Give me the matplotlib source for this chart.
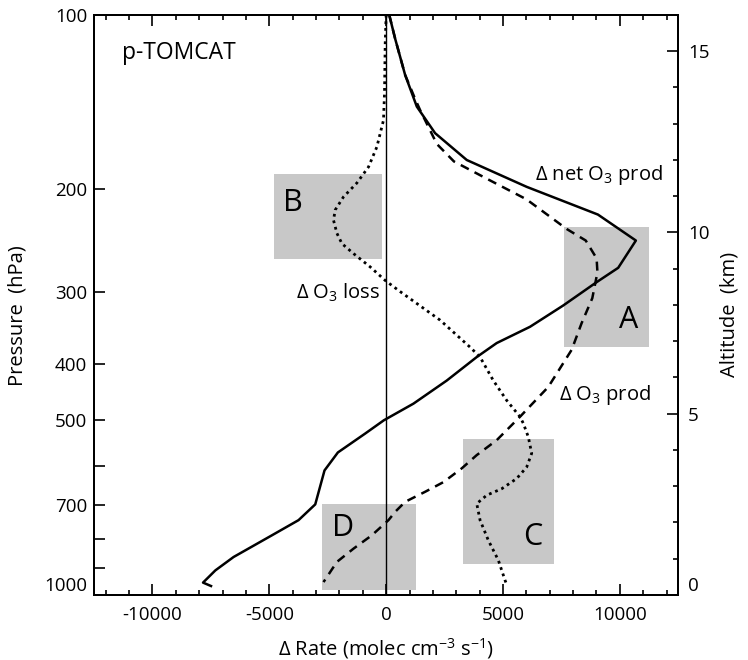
import numpy as np
import matplotlib
matplotlib.use("Agg")
import matplotlib.pyplot as plt
from matplotlib.patches import Rectangle
from matplotlib.ticker import NullFormatter, FixedLocator, FixedFormatter, MultipleLocator

plt.rcParams["font.family"] = ["Open Sans", "DejaVu Sans"]
plt.rcParams["mathtext.fontset"] = "custom"
plt.rcParams["mathtext.rm"] = "Open Sans"
plt.rcParams["mathtext.it"] = "Open Sans:italic"
plt.rcParams["axes.unicode_minus"] = False

# Delta net O3 production (molec cm-3 s-1) vs pressure (hPa)
net_p = [100, 110, 127, 144, 160, 178, 198, 221, 245, 273, 289, 317, 345, 368,
         389, 427, 468, 500, 527, 568, 610, 698, 743, 789, 860, 907, 952, 965]
net_rate = [130, 385, 812, 1312, 2094, 3450, 6014, 9060, 10685, 9929, 9005, 7578,
            6155, 4730, 3876, 2594, 1168, -100, -898, -2065, -2637, -3034, -3748,
            -4885, -6527, -7308, -7835, -7493]

# Delta O3 production
prod_p = [100, 110, 127, 140, 146, 167, 179, 193, 208, 234, 245, 263, 278, 308,
          340, 378, 438, 493, 541, 574, 605, 639, 664, 691, 719, 743, 789, 832,
          877, 950]
prod_rate = [130, 385, 812, 1250, 1453, 2167, 2900, 4445, 6000, 7723, 8540, 9005,
             9040, 8820, 8364, 7937, 6937, 5727, 4730, 3876, 3235, 2450, 1667, 812,
             385, 100, -612, -1397, -2108, -2680]

# Delta O3 loss
loss_p = [100, 112, 137, 152, 169, 183, 195, 206, 217, 226, 238, 248, 258, 272,
          287, 300, 336, 374, 389, 427, 462, 493, 506, 534, 570, 602, 630, 656,
          673, 696, 743, 805, 871, 943, 958]
loss_rate = [0, -40, -71, -114, -398, -756, -1254, -1824, -2180, -2252, -2107,
             -1893, -1397, -684, -43, 598, 2308, 3590, 4018, 4586, 5158, 5727, 5868,
             6082, 6227, 6013, 5586, 4945, 4304, 3876, 4018, 4372, 4800, 5086, 5150]

# shaded regions: (x0, x1, p_top, p_bottom, letter, letter_x, letter_p)
regions = [
    (7620, 11250, 232, 374, "A", 10386, 336),
    (-4780, -180, 188, 264, "B", -3975, 211),
    (3300, 7170, 539, 883, "C", 6283, 794),
    (-2750, 1280, 697, 979, "D", -1859, 766),
]

p_major = [100, 200, 300, 400, 500, 700, 1000]
p_minor = [600, 800, 900]
km_major = [0, 5, 10, 15]
km_minor = list(range(0, 17))

fig = plt.figure(figsize=(7.48, 6.6), dpi=100)
ax = fig.add_axes([94 / 748, 1 - 595 / 660, 584.3 / 748, 580.3 / 660])

for x0, x1, p0, p1, letter, lx, lp in regions:
    ax.add_patch(Rectangle((x0, p0), x1 - x0, p1 - p0, facecolor="#c8c8c8",
                           edgecolor="none", zorder=1))
    ax.text(lx, lp, letter, fontsize=22, ha="center", va="center", zorder=2)

ax.axvline(0, color="black", lw=1.0, zorder=3)

ax.plot(net_rate, net_p, color="black", lw=1.8, zorder=4)
ax.plot(prod_rate, prod_p, color="black", lw=1.8, ls=(0, (3.6, 2.6)), zorder=4)
ax.plot(loss_rate, loss_p, color="black", lw=2.0, ls=(0, (1, 1.4)), zorder=4)

lab_fs = 14.5
ax.text(11850, 189, r"$\Delta$ net O$_3$ prod", fontsize=lab_fs, ha="right", va="center")
ax.text(11330, 452, r"$\Delta$ O$_3$ prod", fontsize=lab_fs, ha="right", va="center")
ax.text(-260, 302, r"$\Delta$ O$_3$ loss", fontsize=lab_fs, ha="right", va="center")
ax.text(0.048, 0.934, "p-TOMCAT", fontsize=16.5, ha="left", va="center",
        transform=ax.transAxes)

ax.set_yscale("log")
ax.set_ylim(1000, 100)
ax.set_xlim(-12500, 12500)
ax.yaxis.set_major_locator(FixedLocator(p_major))
ax.yaxis.set_minor_locator(FixedLocator(p_minor))
ax.yaxis.set_major_formatter(FixedFormatter([str(p) for p in p_major]))
ax.yaxis.set_minor_formatter(NullFormatter())
ax.xaxis.set_major_locator(MultipleLocator(5000))
ax.xaxis.set_minor_locator(MultipleLocator(1000))

tick_fs = 13.5
ax.tick_params(axis="x", which="major", direction="in", length=8, width=1.2,
               top=True, labelsize=tick_fs, pad=8)
ax.tick_params(axis="x", which="minor", direction="in", length=3.6, width=1.2, top=True)
ax.tick_params(axis="y", which="both", direction="in", length=8, width=1.2,
               right=False, labelsize=tick_fs, pad=5)
ax.yaxis.get_major_ticks()[-1].label1.set_va("bottom")
for s in ax.spines.values():
    s.set_linewidth(1.4)

ax.set_xlabel(r"$\Delta$ Rate (molec cm$^{-3}$ s$^{-1}$)", fontsize=lab_fs)
ax.xaxis.set_label_coords(0.5, -0.071)
ax.set_ylabel("Pressure  (hPa)", fontsize=lab_fs)
ax.yaxis.set_label_coords(-0.113, 0.482)

# altitude axis on the right, linear in km
ax2 = ax.twinx()
ax2.set_ylim(0, 16.0)
ax2.yaxis.set_major_locator(FixedLocator(km_major))
ax2.yaxis.set_minor_locator(FixedLocator(km_minor))
ax2.tick_params(axis="y", which="major", direction="in", length=8, width=1.2,
                labelsize=tick_fs, pad=7)
ax2.tick_params(axis="y", which="minor", direction="in", length=3.6, width=1.2)
ax2.yaxis.get_major_ticks()[0].label2.set_va("bottom")
ax2.set_ylabel("Altitude  (km)", fontsize=lab_fs)
ax2.yaxis.set_label_coords(1.071, 0.484)
for s in ax2.spines.values():
    s.set_linewidth(1.4)

fig.savefig("out.png", dpi=100)
